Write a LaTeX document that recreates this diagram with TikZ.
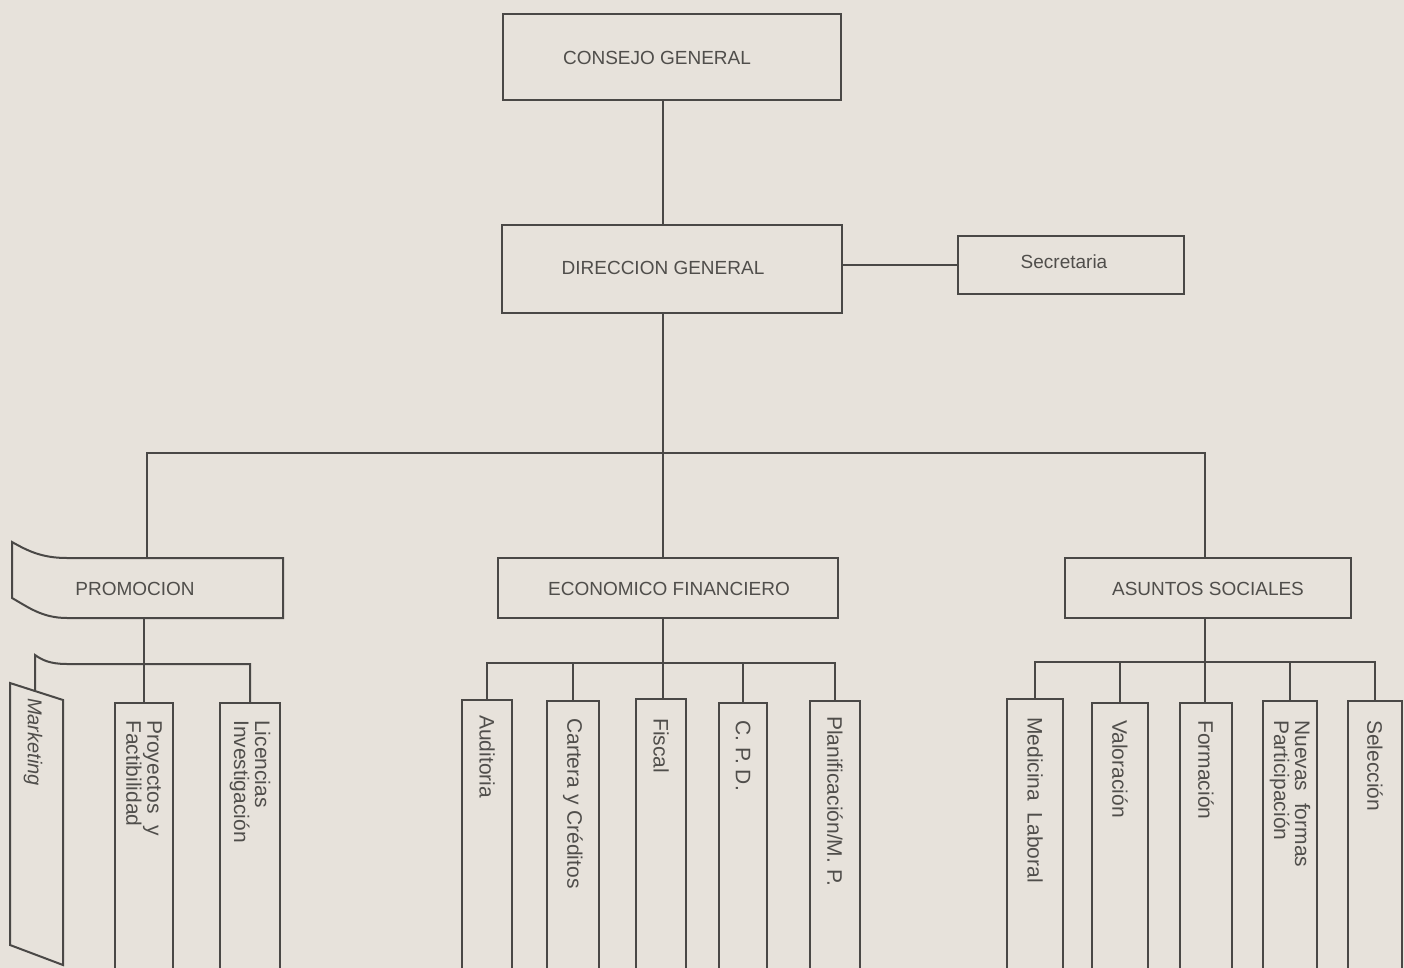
\documentclass[tikz,border=0pt]{standalone}
\usepackage{fontspec}
\setmainfont{Liberation Sans}
\definecolor{bg}{RGB}{231,226,219}
\definecolor{ink}{RGB}{74,72,70}
\definecolor{txt}{RGB}{80,78,75}
\begin{document}
\begin{tikzpicture}[x=1pt,y=-1pt,
  box/.style={draw=ink, line width=2pt, inner sep=0pt, rectangle},
  col/.style={box, anchor=north, minimum height=320pt},
  link/.style={draw=ink, line width=2pt},
  hlab/.style={text=txt, font=\fontsize{19}{22}\selectfont, inner sep=0pt},
  vlab/.style={text=txt, font=\fontsize{21}{21}\selectfont, rotate=-90, anchor=west, inner sep=0pt, align=left}]
\fill[bg] (0,0) rectangle (1404,968);
\useasboundingbox (0,0) rectangle (1404,968);
\clip (0,0) rectangle (1404,968);

% level 0 / 1
\node[box, minimum width=338pt, minimum height=86pt] (cg) at (672,57) {};
\node[hlab] (cgt) at (657,58) {CONSEJO GENERAL};
\node[box, minimum width=340pt, minimum height=88pt] (dg) at (672,269) {};
\node[hlab] (dgt) at (663,268) {DIRECCION GENERAL};
\node[box, minimum width=226pt, minimum height=58pt] (sec) at (1071,265) {};
\node[hlab] (sect) at (1064,262) {Secretaria};

% level 2
\node[inner sep=0pt, minimum width=272pt, minimum height=60pt] (prom) at (147,588) {};
\draw[link] (283,558) -- (67,558) .. controls (42,558) and (28,551) .. (12,542) -- (12,598)
  .. controls (28,607) and (42,618) .. (67,618) -- (283,618) -- cycle;
\node[hlab] (promt) at (135,589) {PROMOCION};
\node[box, minimum width=340pt, minimum height=60pt] (eco) at (668,588) {};
\node[hlab] (ecot) at (669,589) {ECONOMICO FINANCIERO};
\node[box, minimum width=286pt, minimum height=60pt] (asu) at (1208,588) {};
\node[hlab] (asut) at (1208,589) {ASUNTOS SOCIALES};

% level 3 boxes
\draw[link] (10,683) -- (63,700) -- (63,965) -- (10,945) -- cycle;
\node[col, minimum width=58pt] (proy) at (144,702) {};
\node[col, minimum width=60pt] (lic) at (250,702) {};
\node[col, minimum width=50pt] (aud) at (487,699) {};
\node[col, minimum width=52pt] (cart) at (573,700) {};
\node[col, minimum width=50pt] (fis) at (661,698) {};
\node[col, minimum width=48pt] (cpd) at (743,702) {};
\node[col, minimum width=50pt] (plan) at (835,700) {};
\node[col, minimum width=56pt] (med) at (1035,698) {};
\node[col, minimum width=56pt] (val) at (1120,702) {};
\node[col, minimum width=52pt] (form) at (1206,702) {};
\node[col, minimum width=54pt] (nue) at (1290,700) {};
\node[col, minimum width=54pt] (sel) at (1375,700) {};

% level 3 labels
\node[vlab, font=\fontsize{20}{20}\selectfont\itshape] (mkt) at (33,698) {Marketing};
\node[vlab] (proyt) at ([yshift=-18pt]proy.north) {Proyectos\ \ y\\Factibilidad};
\node[vlab] (lict) at ([yshift=-18pt]lic.north) {Licencias\\Investigación};
\node[vlab] (audt) at ([yshift=-16pt]aud.north) {Auditoria};
\node[vlab] (cartt) at ([yshift=-18pt]cart.north) {Cartera y Créditos};
\node[vlab] (fist) at ([yshift=-20pt]fis.north) {Fiscal};
\node[vlab] (cpdt) at ([yshift=-18pt]cpd.north) {C. P. D.};
\node[vlab] (plant) at ([yshift=-16pt]plan.north) {Planificación/M. P.};
\node[vlab] (medt) at ([yshift=-19pt]med.north) {Medicina\ \ Laboral};
\node[vlab] (valt) at ([yshift=-18pt]val.north) {Valoración};
\node[vlab] (formt) at ([yshift=-18pt]form.north) {Formación};
\node[vlab] (nuet) at ([yshift=-20pt]nue.north) {Nuevas\ \ formas\\Participación};
\node[vlab] (selt) at ([yshift=-20pt]sel.north) {Selección};

% connectors
\coordinate (spine) at (663,0);
\coordinate (tb) at (0,453);
\coordinate (asux) at (1205,0);
\coordinate (pb) at (0,664);
\coordinate (eb) at (0,663);
\coordinate (ab) at (0,662);
\coordinate (mktc) at (35,691);

\draw[link] (cg.south -| spine) -- (dg.north -| spine);
\draw[link] (sec.west) -- (sec.west -| dg.east);
\draw[link] (dg.south -| spine) -- (eco.north -| spine);
\draw[link] (prom.north) -- (prom.north |- tb) -- (tb -| asux) -- (asu.north -| asux);

\draw[link] (prom.south -| proy.north) -- (proy.north);
\draw[link] (lic.north) -- (lic.north |- pb) -- (67,664) .. controls (50,664) and (42,660) .. (35,655) -- (mktc);

\draw[link] (eco.south -| spine) -- (fis.north -| spine);
\draw[link] (aud.north) -- (aud.north |- eb) -- (plan.north |- eb) -- (plan.north);
\draw[link] (cart.north) -- (cart.north |- eb);
\draw[link] (cpd.north) -- (cpd.north |- eb);

\draw[link] (asu.south -| asux) -- (form.north -| asux);
\draw[link] (med.north) -- (med.north |- ab) -- (sel.north |- ab) -- (sel.north);
\draw[link] (val.north) -- (val.north |- ab);
\draw[link] (nue.north) -- (nue.north |- ab);
\end{tikzpicture}
\end{document}
